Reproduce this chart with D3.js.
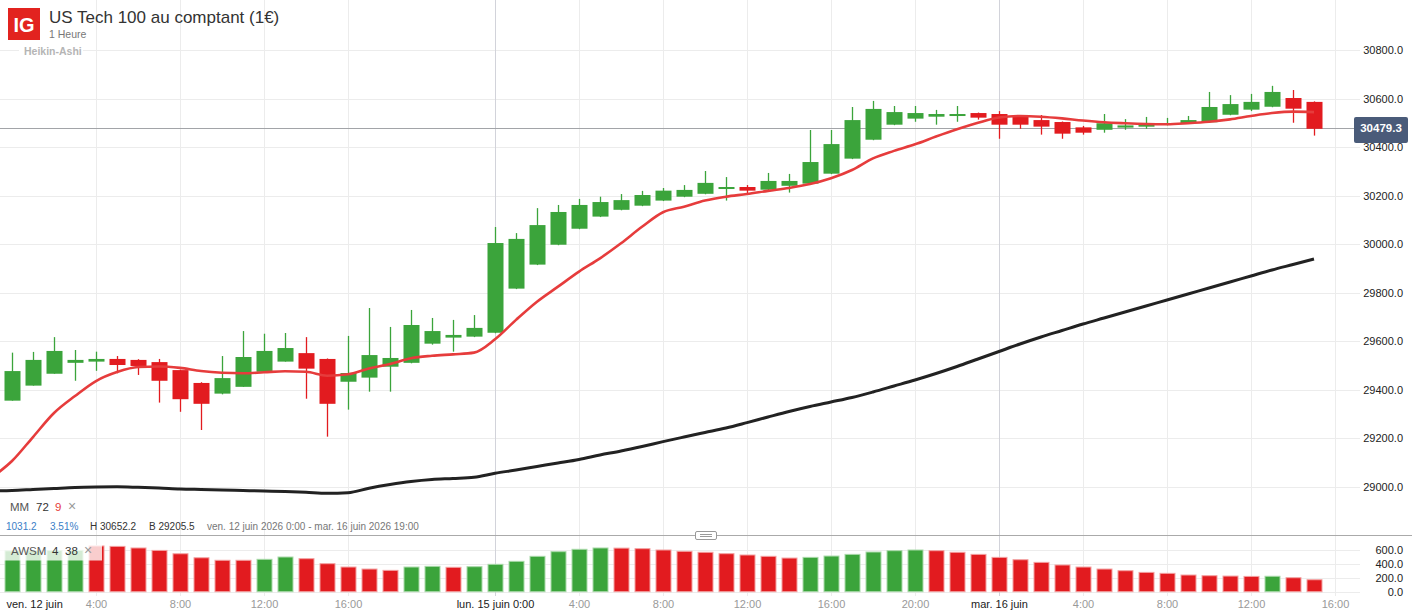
<!DOCTYPE html>
<html>
<head>
<meta charset="utf-8">
<script src="https://cdn.jsdelivr.net/npm/d3@7"></script>
<style>
  body { margin: 0; background: #fff; }
  svg { display: block; font-family: "Liberation Sans", Arial, sans-serif; }
</style>
</head>
<body>
<script>
// Heikin-Ashi candles, 1 hour, ven. 12 juin 0:00 -> mar. 16 juin 15:00
var opens  = [29354,29416,29465,29510,29515,29526,29522,29513,29480,29427,29383,29411,29473,29515,29550,29526,
              29432,29449,29494,29510,29589,29614,29618,29634,29816,29915,29997,30063,30113,30141,30158,30179,
              30195,30207,30227,30235,30224,30240,30249,30290,30352,30430,30492,30517,30525,30529,30540,30536,
              30528,30511,30503,30481,30471,30480,30490,30491,30499,30502,30533,30554,30566,30602,30586];
var highs  = [29552,29555,29616,29563,29556,29538,29525,29526,29482,29430,29538,29641,29630,29633,29616,29528,
              29621,29736,29658,29728,29695,29687,29707,30070,30045,30148,30161,30186,30195,30206,30219,30231,
              30243,30301,30276,30243,30293,30289,30470,30470,30565,30590,30569,30569,30553,30569,30542,30548,
              30532,30532,30505,30487,30536,30515,30524,30520,30528,30627,30614,30619,30652.2,30635,30588];
var lows   = [29354,29416,29465,29436,29477,29467,29460,29346,29308,29233,29380,29411,29473,29515,29362,29205.5,
              29317,29391,29391,29508,29585,29556,29616,29632,29814,29913,29995,30061,30111,30139,30156,30177,
              30193,30205,30179,30209,30222,30212,30247,30288,30350,30428,30490,30504,30492,30504,30513,30434,
              30475,30451,30434,30451,30459,30471,30475,30489,30497,30500,30531,30548,30564,30500,30447];
var closes = [29476,29522,29559,29522,29526,29501,29497,29436,29360,29341,29447,29534,29559,29571,29486,29341,
              29468,29542,29530,29666,29641,29625,29654,30004,30021,30078,30132,30161,30173,30181,30202,30220,
              30223,30252,30235,30220,30260,30260,30338,30412,30511,30557,30544,30540,30536,30536,30521,30492,
              30492,30484,30455,30459,30498,30489,30492,30499,30511,30565,30577,30586,30627,30558,30475];

// moving averages (MM 9 red, MM 72 black); first value is the hour before the first candle
var ma9  = [29035,29105,29204,29303,29373,29435,29472,29493,29495,29489,29476,29469,29467,29471,29475,29473,29457,
            29463,29487,29505,29529,29539,29545,29552,29607,29687,29762,29824,29886,29941,30003,30071,30131,
            30154,30179,30195,30206,30219,30231,30247,30271,30305,30353,30384,30411,30443,30473,30500,30522,
            30528,30525,30518,30509,30502,30498,30495,30494,30498,30504,30514,30528,30540,30546,30544];
var ma72 = [28981.5,28983.5,28987.6,28991.8,28995.9,28997.9,28998.8,28996.7,28993.8,28989.7,28987.6,28985.6,28983.5,
            28981.4,28979.4,28976.1,28972,28974.4,28993,29008.2,29020.6,29028.9,29033,29038,29054.4,29068,
            29082.5,29096.9,29111.7,29129.9,29146.4,29165,29185.1,29204.1,29222.7,29241.2,29263.5,29286.6,
            29309.3,29329.9,29348.4,29367,29389.7,29414.4,29439.2,29466,29494.9,29525.8,29556.7,29587.6,
            29616.5,29643.3,29670.1,29694.8,29719.6,29744.3,29769.1,29793.8,29818.6,29843.3,29868.2,29893,
            29915.5,29938.1];

// AWSM 4 38 histogram
var awsm   = [588,590,592,595,658,652,629,594,546,488,452,452,466,499,475,403,355,326,307,355,365,351,360,394,
              437,509,576,610,629,627,619,600,581,567,547,528,509,484,494,513,537,571,590,600,590,567,537,494,
              460,422,384,355,326,302,278,264,240,230,225,220,222,201,172];
var awsmUp = [1,1,1,1,0,0,0,0,0,0,0,0,1,1,0,0,0,0,0,1,1,0,1,1,1,1,1,1,1,0,0,0,0,0,0,0,0,0,1,1,1,1,1,1,0,0,0,0,
              0,0,0,0,0,0,0,0,0,0,0,0,1,0,0];

var timeTickIdx = [0,4,8,12,16,23,27,31,35,39,43,47,51,55,59,63];
var timeTickLabels = ["ven. 12 juin","4:00","8:00","12:00","16:00","lun. 15 juin 0:00","4:00","8:00","12:00",
                      "16:00","20:00","mar. 16 juin","4:00","8:00","12:00","16:00"];
var dayTickIdx = [23,47];
var priceTicks = [29000,29200,29400,29600,29800,30000,30200,30400,30600,30800];
var awsmTicks = [0,200,400,600];
var lastPrice = 30479.3;

var W = 1412, H = 616;
var GREEN = "#3ba43b", RED = "#e21b1f";

var svg = d3.select("body").append("svg").attr("width", W).attr("height", H);

var x = d3.scaleLinear().domain([0, 63]).range([12, 12 + 63 * 21]);
var y = d3.scaleLinear().domain([29000, 30800]).range([486.5, 50]);
var ya = d3.scaleLinear().domain([0, 600]).range([591.7, 550]);

var grid = svg.append("g");
// horizontal grid
grid.selectAll(".hp").data(priceTicks).enter().append("line")
  .attr("x1", 0).attr("x2", 1360)
  .attr("y1", function(d){ return Math.round(y(d)) + 0.5; })
  .attr("y2", function(d){ return Math.round(y(d)) + 0.5; })
  .attr("stroke", "#ececec");
grid.selectAll(".ha").data(awsmTicks).enter().append("line")
  .attr("x1", 0).attr("x2", 1360)
  .attr("y1", function(d){ return Math.round(ya(d)) + 0.5; })
  .attr("y2", function(d){ return Math.round(ya(d)) + 0.5; })
  .attr("stroke", "#ececec");
// vertical grid
grid.selectAll(".v").data(timeTickIdx.slice(1)).enter().append("line")
  .attr("x1", function(d){ return Math.round(x(d)) + 0.5; })
  .attr("x2", function(d){ return Math.round(x(d)) + 0.5; })
  .attr("y1", 0).attr("y2", 596)
  .attr("stroke", function(d){ return dayTickIdx.indexOf(d) >= 0 ? "#d2d3da" : "#ececec"; });

// header
svg.append("rect").attr("x", 8).attr("y", 8).attr("width", 32).attr("height", 32).attr("fill", "#e2231f");
svg.append("text").attr("x", 24).attr("y", 32).attr("text-anchor", "middle")
  .attr("fill", "#fff").attr("font-size", 20).attr("font-weight", "bold").text("IG");
svg.append("text").attr("x", 49).attr("y", 23).attr("font-size", 17).attr("fill", "#333")
  .text("US Tech 100 au comptant (1€)");
svg.append("text").attr("x", 49).attr("y", 38).attr("font-size", 10.5).attr("fill", "#777").text("1 Heure");
svg.append("rect").attr("x", 19).attr("y", 44).attr("width", 64).attr("height", 13).attr("fill", "#fff");
svg.append("text").attr("x", 24).attr("y", 55).attr("font-size", 10.5).attr("fill", "#b5b5b5")
  .attr("font-weight", "bold").text("Heikin-Ashi");

// last price line
svg.append("line").attr("x1", 0).attr("x2", 1354)
  .attr("y1", Math.round(y(lastPrice)) + 0.5).attr("y2", Math.round(y(lastPrice)) + 0.5)
  .attr("stroke", "#a2a4a8");

// candles
var idx = d3.range(opens.length);
var candles = svg.append("g").selectAll("g").data(idx).enter().append("g");
candles.append("line")
  .attr("x1", function(i){ return Math.round(x(i)) + 0.5; })
  .attr("x2", function(i){ return Math.round(x(i)) + 0.5; })
  .attr("y1", function(i){ return y(highs[i]); })
  .attr("y2", function(i){ return y(lows[i]); })
  .attr("stroke", function(i){ return closes[i] >= opens[i] ? GREEN : RED; })
  .attr("stroke-width", 1.3);
candles.append("rect")
  .attr("x", function(i){ return Math.round(x(i)) - 7.5; })
  .attr("width", 16)
  .attr("y", function(i){ return y(Math.max(opens[i], closes[i])); })
  .attr("height", function(i){ return Math.max(2, Math.abs(y(opens[i]) - y(closes[i]))); })
  .attr("fill", function(i){ return closes[i] >= opens[i] ? GREEN : RED; });

// moving averages (index shifted by one for the leading value)
var line = function(arr){
  return d3.line().x(function(d, i){ return x(i - 1); }).y(function(d){ return y(d); })
    .curve(d3.curveMonotoneX)(arr);
};
svg.append("path").attr("d", line(ma72)).attr("fill", "none")
  .attr("stroke", "#222").attr("stroke-width", 3);
svg.append("path").attr("d", line(ma9)).attr("fill", "none")
  .attr("stroke", "#e63c3c").attr("stroke-width", 2.6);

// price axis
var yAxis = d3.axisLeft(y).tickValues(priceTicks).tickSize(0).tickPadding(0)
  .tickFormat(function(d){ return d3.format(".1f")(d); });
var ga = svg.append("g").attr("transform", "translate(1403,0)").call(yAxis);
ga.select(".domain").remove();
ga.selectAll("text").attr("font-size", 11).attr("fill", "#222")
  .attr("font-family", "Liberation Sans, Arial, sans-serif");

// last price tag
svg.append("rect").attr("x", 1354).attr("y", 117).attr("width", 54).attr("height", 26).attr("rx", 2)
  .attr("fill", "#4a5b79");
svg.append("text").attr("x", 1381).attr("y", Math.round(y(lastPrice)) + 4).attr("text-anchor", "middle")
  .attr("fill", "#fff").attr("font-size", 11.5).attr("font-weight", "bold").text(d3.format(".1f")(lastPrice));

// MM legend and info
var leg = svg.append("g").attr("font-size", 11.5);
leg.append("text").attr("x", 10).attr("y", 511).attr("fill", "#555").text("MM");
leg.append("text").attr("x", 36).attr("y", 511).attr("fill", "#333").text("72");
leg.append("text").attr("x", 55).attr("y", 511).attr("fill", "#e63c3c").text("9");
leg.append("text").attr("x", 68).attr("y", 511).attr("fill", "#999").attr("font-size", 14).text("×");

var info = svg.append("g").attr("font-size", 10);
info.append("text").attr("x", 6).attr("y", 530).attr("fill", "#3a7ec6").text("1031.2");
info.append("text").attr("x", 50).attr("y", 530).attr("fill", "#3a7ec6").text("3.51%");
info.append("text").attr("x", 90).attr("y", 530).attr("fill", "#333").text("H " + d3.max(highs));
info.append("text").attr("x", 149).attr("y", 530).attr("fill", "#333").text("B " + d3.min(lows));
info.append("text").attr("x", 207).attr("y", 530).attr("fill", "#777")
  .text("ven. 12 juin 2026 0:00 - mar. 16 juin 2026 19:00");

// panel separator
svg.append("line").attr("x1", 0).attr("x2", W).attr("y1", 535.5).attr("y2", 535.5).attr("stroke", "#aaa");
svg.append("rect").attr("x", 695.5).attr("y", 531.5).attr("width", 21).attr("height", 8).attr("rx", 1.5)
  .attr("fill", "#fff").attr("stroke", "#999");
svg.append("line").attr("x1", 700).attr("x2", 712).attr("y1", 534.5).attr("y2", 534.5).attr("stroke", "#999");
svg.append("line").attr("x1", 700).attr("x2", 712).attr("y1", 536.5).attr("y2", 536.5).attr("stroke", "#999");

// AWSM histogram
svg.append("g").selectAll("rect").data(idx).enter().append("rect")
  .attr("x", function(i){ return Math.round(x(i)) - 7; })
  .attr("width", 15)
  .attr("y", function(i){ return ya(awsm[i]); })
  .attr("height", function(i){ return ya(0) - ya(awsm[i]); })
  .attr("fill", function(i){ return awsmUp[i] ? GREEN : RED; })
  .attr("stroke", function(i){ return awsmUp[i] ? "#a9d9a9" : "#f3a0a0"; })
  .attr("stroke-width", 1);

svg.append("rect").attr("x", 0).attr("y", 545).attr("width", 102).attr("height", 15.5)
  .attr("fill", "#fff").attr("opacity", 0.78);
var leg2 = svg.append("g").attr("font-size", 11.5);
leg2.append("text").attr("x", 11).attr("y", 555).attr("fill", "#555").text("AWSM");
leg2.append("text").attr("x", 52).attr("y", 555).attr("fill", "#333").text("4");
leg2.append("text").attr("x", 65).attr("y", 555).attr("fill", "#333").text("38");
leg2.append("text").attr("x", 84).attr("y", 555).attr("fill", "#999").attr("font-size", 14).text("×");

var aAxis = d3.axisLeft(ya).tickValues(awsmTicks).tickSize(0).tickPadding(0)
  .tickFormat(function(d){ return d3.format(".1f")(d); });
var gaa = svg.append("g").attr("transform", "translate(1403,0)").call(aAxis);
gaa.select(".domain").remove();
gaa.selectAll("text").attr("font-size", 11).attr("fill", "#222")
  .attr("font-family", "Liberation Sans, Arial, sans-serif");

// time axis
var xAxis = d3.axisBottom(x).tickValues(timeTickIdx).tickSize(0).tickPadding(0)
  .tickFormat(function(d, i){ return timeTickLabels[i]; });
var gx = svg.append("g").attr("transform", "translate(0,600)").call(xAxis);
gx.select(".domain").remove();
gx.selectAll("text")
  .attr("font-size", 11).attr("font-family", "Liberation Sans, Arial, sans-serif")
  .attr("dy", "0.71em")
  .attr("fill", function(d, i){ return (i === 0 || dayTickIdx.indexOf(d) >= 0) ? "#222" : "#999"; });
gx.selectAll("text").filter(function(d){ return d === 0; })
  .attr("text-anchor", "start").attr("x", -6);
</script>
</body>
</html>
